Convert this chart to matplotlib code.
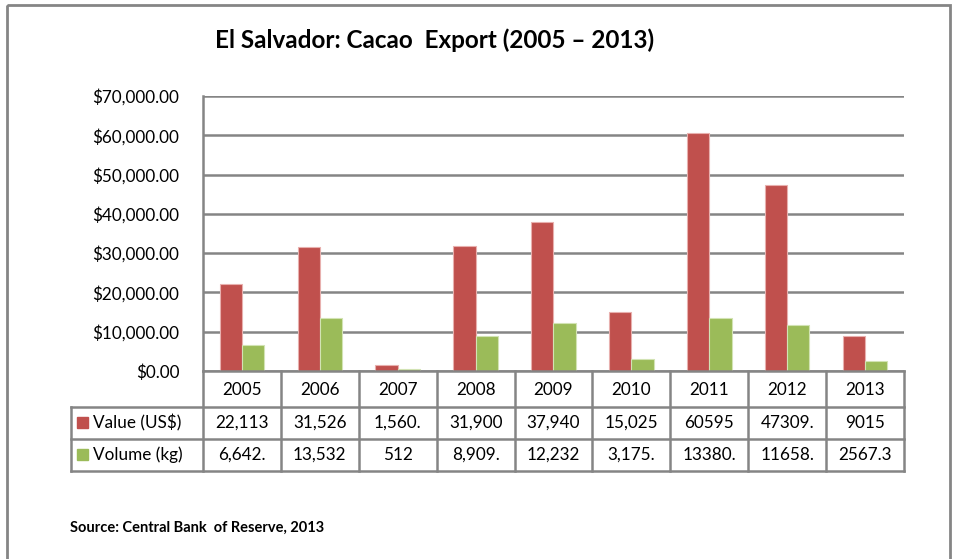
import matplotlib.pyplot as plt
from matplotlib.patches import Rectangle
import numpy as np

plt.rcParams["font.family"] = ["Lato", "DejaVu Sans"]

years = ["2005", "2006", "2007", "2008", "2009", "2010", "2011", "2012", "2013"]
value_usd = [22113, 31526, 1560, 31900, 37940, 15025, 60595, 47309, 9015]
volume_kg = [6642, 13532, 512, 8909, 12232, 3175, 13380, 11658, 2567.3]
# texts as printed in the data table (Excel cut some of them)
value_txt = ["22,113", "31,526", "1,560.", "31,900", "37,940", "15,025", "60595", "47309.", "9015"]
volume_txt = ["6,642.", "13,532", "512", "8,909.", "12,232", "3,175.", "13380.", "11658.", "2567.3"]
series_names = ["Value (US$)", "Volume (kg)"]
colors = ["#C0504D", "#9BBB59"]
edge_colors = ["#E8B0AE", "#D2E3B4"]
title = "El Salvador: Cacao  Export (2005 \u2013 2013)"
source = "Source: Central Bank  of Reserve, 2013"

W, H = 956, 559
grey = "#858585"

fig = plt.figure(figsize=(W / 100, H / 100), dpi=100)

# plot area in pixels
px_left, px_right, px_top, px_bottom = 203, 904, 96, 371
ax = fig.add_axes([px_left / W, (H - px_bottom) / H,
                   (px_right - px_left) / W, (px_bottom - px_top) / H])

n = len(years)
x = np.arange(n)
bw = 1 / 3.5
ax.bar(x - bw / 2, value_usd, width=bw, color=colors[0], edgecolor=edge_colors[0], linewidth=0.8, zorder=3)
ax.bar(x + bw / 2, volume_kg, width=bw, color=colors[1], edgecolor=edge_colors[1], linewidth=0.8, zorder=3)

ax.set_xlim(-0.5, n - 0.5)
ax.set_ylim(0, 70000)
ax.set_yticks(np.arange(0, 70001, 10000))
ax.set_yticklabels([f"${v:,.2f}" for v in np.arange(0, 70001, 10000)], fontsize=12.3)
ax.set_xticks([])
ax.tick_params(axis="y", length=0, pad=17)
ax.yaxis.grid(True, color=grey, linewidth=1.8)
ax.set_axisbelow(True)
for s in ["top", "right", "bottom"]:
    ax.spines[s].set_visible(False)
ax.spines["left"].set_color(grey)
ax.spines["left"].set_linewidth(1.8)

# overlay in pixel coordinates for frame, title and data table
ov = fig.add_axes([0, 0, 1, 1], zorder=5)
ov.set_xlim(0, W)
ov.set_ylim(H, 0)
ov.axis("off")
ov.patch.set_alpha(0)

ov.add_patch(Rectangle((7, 5), 943, 600, fill=False, edgecolor=grey, linewidth=2))

ov.text(435, 40, title, fontsize=17.5, fontweight="bold", ha="center", va="center")
ov.text(70, 528, source, fontsize=10.5, fontweight="bold", ha="left", va="center")

cols = np.linspace(px_left, px_right, n + 1)
r0, r1, r2, r3 = 371, 407, 439, 471
lw = 1.8
ov.plot([px_left, px_right], [r0, r0], color=grey, lw=lw)
for yy in [r1, r2, r3]:
    ov.plot([71, px_right], [yy, yy], color=grey, lw=lw)
for xx in cols:
    ov.plot([xx, xx], [r0, r3], color=grey, lw=lw)
ov.plot([71, 71], [r1, r3], color=grey, lw=lw)

fs = 12.3
for i in range(n):
    cx = (cols[i] + cols[i + 1]) / 2
    ov.text(cx, (r0 + r1) / 2 + 1, years[i], fontsize=fs, ha="center", va="center")
    ov.text(cx, (r1 + r2) / 2, value_txt[i], fontsize=fs, ha="center", va="center")
    ov.text(cx, (r2 + r3) / 2, volume_txt[i], fontsize=fs, ha="center", va="center")

for k, (yy0, yy1) in enumerate([(r1, r2), (r2, r3)]):
    cy = (yy0 + yy1) / 2
    ov.add_patch(Rectangle((77, cy - 6), 11, 11, color=colors[k]))
    ov.text(93, cy, series_names[k], fontsize=fs, ha="left", va="center")

plt.savefig("out.png", dpi=100)
plt.close()
